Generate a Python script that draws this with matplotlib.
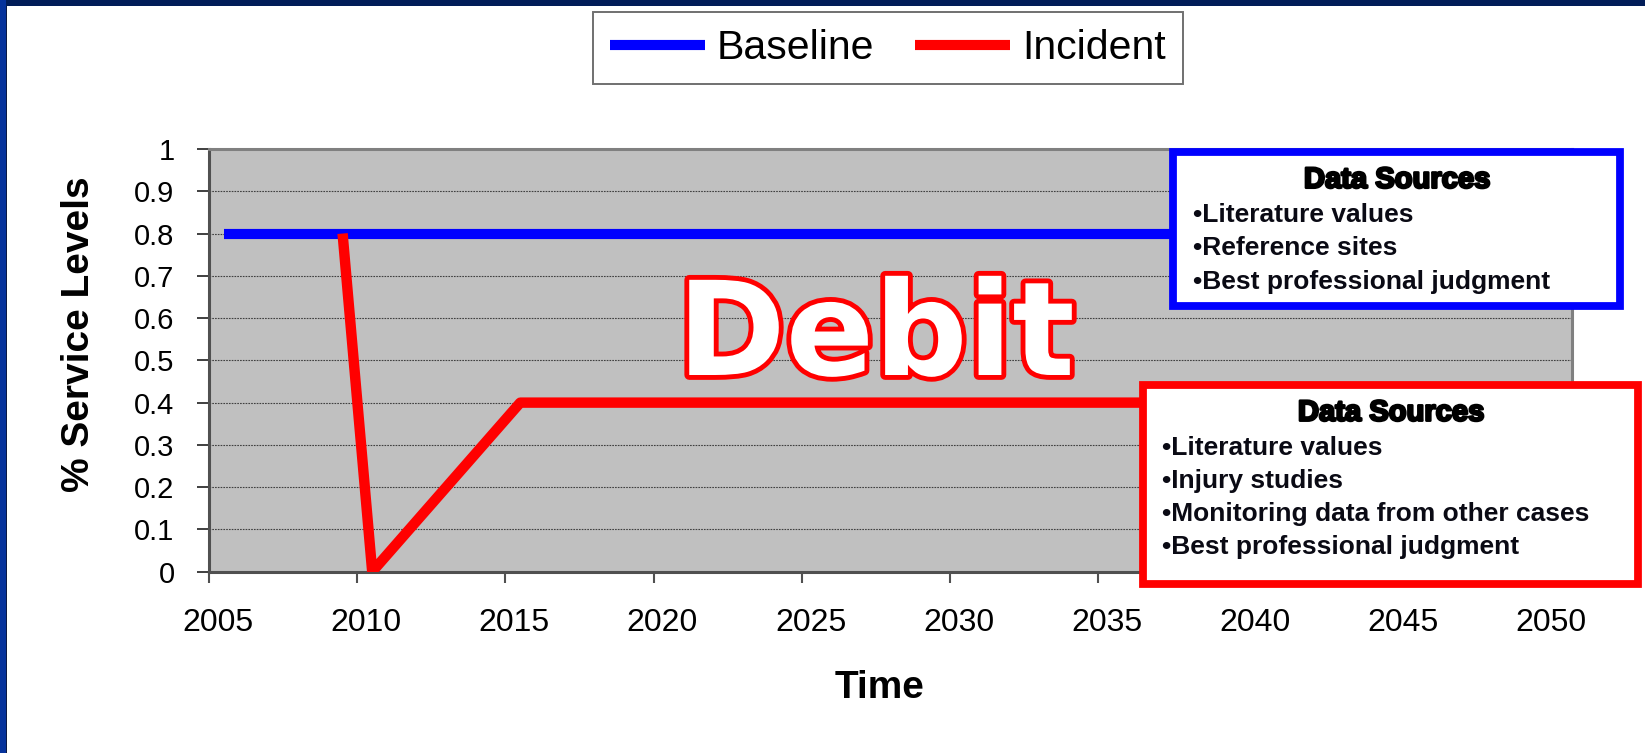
import matplotlib
matplotlib.use("Agg")
import matplotlib.pyplot as plt
from matplotlib.patches import Rectangle
import matplotlib.patheffects as pe

# ---- data ----
baseline_years = [2005, 2050]
baseline_values = [0.8, 0.8]
incident_years = [2009, 2010, 2015, 2050]
incident_values = [0.8, 0.0, 0.4, 0.4]
year_labels = [2005, 2010, 2015, 2020, 2025, 2030, 2035, 2040, 2045, 2050]
y_ticks = [0, 0.1, 0.2, 0.3, 0.4, 0.5, 0.6, 0.7, 0.8, 0.9, 1]
y_ticklabels = ["0", "0.1", "0.2", "0.3", "0.4", "0.5", "0.6", "0.7", "0.8", "0.9", "1"]
baseline_sources = ["Literature values", "Reference sites", "Best professional judgment"]
incident_sources = ["Literature values", "Injury studies",
                    "Monitoring data from other cases", "Best professional judgment"]

W, H = 1645, 753
plt.rcParams['font.family'] = ['Liberation Sans', 'DejaVu Sans']
fig = plt.figure(figsize=(W / 100, H / 100), dpi=100)
fig.patch.set_facecolor('white')

def fx(px):
    return px / W

def fy(py):
    return 1 - py / H

# slide frame
fig.patches.append(Rectangle((0, fy(6)), 1, 6 / H, transform=fig.transFigure,
                             facecolor='#011d58', edgecolor='none', zorder=0))
fig.patches.append(Rectangle((0, 0), 6 / W, 1, transform=fig.transFigure,
                             facecolor='#06339c', edgecolor='none', zorder=0))
fig.patches.append(Rectangle((6 / W, 0), 1.2 / W, fy(6), transform=fig.transFigure,
                             facecolor='#0b1a44', edgecolor='none', zorder=0))

ax = fig.add_axes([fx(209.3), fy(571.7), fx(1571.7) - fx(209.3), fy(149) - fy(571.7)])
ax.set_facecolor('#c0c0c0')

ax.plot(baseline_years, baseline_values, color='#0000ff', lw=7.3,
        solid_capstyle='butt', label='Baseline', zorder=3)
ax.plot(incident_years, incident_values, color='#ff0000', lw=7.5,
        solid_capstyle='butt', solid_joinstyle='round', label='Incident', zorder=4)

ax.set_xlim(2004.5, 2050.5)
ax.set_ylim(0, 1)

# tick marks at category boundaries, labels near the year categories
boundaries = [y - 0.5 for y in year_labels]
ax.set_xticks(boundaries)
ax.set_xticklabels([])
ax.set_xticks([y - 0.2 for y in year_labels], minor=True)
ax.set_xticklabels([str(y) for y in year_labels], minor=True)
ax.tick_params(axis='x', which='major', length=8, width=1.5, color='#505050', direction='out')
ax.tick_params(axis='x', which='minor', length=0, pad=26, labelsize=23)

ax.set_yticks(y_ticks)
ax.set_yticklabels(y_ticklabels)
ax.tick_params(axis='y', length=9, width=1.3, color='#303030', pad=16, labelsize=21)

ax.yaxis.grid(True, color='#404040', linestyle=(0, (1.5, 1)), linewidth=0.8)
ax.set_axisbelow(True)

for s in ['left', 'bottom']:
    ax.spines[s].set_color('#505050')
    ax.spines[s].set_linewidth(2.2)
for s in ['top', 'right']:
    ax.spines[s].set_color('#808080')
    ax.spines[s].set_linewidth(2.2)

fig.text(fx(79), fy(334), '% Service Levels', rotation=90, ha='center', va='center',
         fontsize=28, fontweight='bold')
fig.text(fx(880), fy(688), 'Time', ha='center', va='center', fontsize=28, fontweight='bold')

# legend
leg = fig.legend(loc='center', bbox_to_anchor=(fx(888), fy(48)), ncol=2, fontsize=29.5,
                 handlelength=2.3, handletextpad=0.3, columnspacing=1.0,
                 borderpad=0.42, fancybox=False, framealpha=1, edgecolor='#707070')
leg.get_frame().set_linewidth(1.4)
for h in leg.get_lines():
    h.set_linewidth(7.3)

# Debit
fig.text(fx(876), fy(375), 'Debit', ha='center', va='baseline', fontsize=94,
         fontweight='bold', family='DejaVu Sans', color='white',
         path_effects=[pe.withStroke(linewidth=7, foreground='#ff0000')], zorder=5)

# Data source boxes
def box(x0, y0, x1, y1, color):
    fig.patches.append(Rectangle((fx(x0), fy(y1)), fx(x1) - fx(x0), fy(y0) - fy(y1),
                                 transform=fig.transFigure, facecolor='white',
                                 edgecolor=color, linewidth=5.6, zorder=10))

heavy = [pe.withStroke(linewidth=1.8, foreground='black')]

box(1173.3, 151.6, 1620.2, 305.6, '#0000ff')
fig.text(fx(1397), fy(187.8), 'Data Sources', ha='center', va='baseline', fontsize=21,
         fontweight='bold', path_effects=heavy, zorder=11)
for i, t in enumerate(baseline_sources):
    fig.text(fx(1193), fy(222.5 + 33 * i), '\u2022' + t, ha='left', va='baseline',
             fontsize=19, fontweight='bold', color='#0a0a14', zorder=11)

box(1143, 384.7, 1638, 583.5, '#ff0000')
fig.text(fx(1391), fy(420.7), 'Data Sources', ha='center', va='baseline', fontsize=21,
         fontweight='bold', path_effects=heavy, zorder=11)
for i, t in enumerate(incident_sources):
    fig.text(fx(1162), fy(455.4 + 33 * i), '\u2022' + t, ha='left', va='baseline',
             fontsize=19, fontweight='bold', color='#0a0a14', zorder=11)

fig.savefig('out.png', dpi=100, facecolor=fig.get_facecolor())
